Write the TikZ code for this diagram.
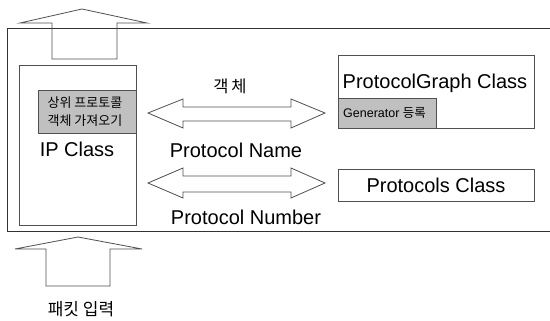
\documentclass[tikz,border=0pt]{standalone}
\usepackage{fontspec}
\setmainfont{Liberation Sans}
\newfontfamily\kr{Noto Sans CJK KR}
\definecolor{ln}{HTML}{505050}
\definecolor{grayfill}{HTML}{C0C0C0}
\begin{document}
\begin{tikzpicture}[x=1pt,y=-1pt,
  box/.style={draw=ln,line width=0.8pt,fill=white,inner sep=0pt},
  gbox/.style={draw=ln,line width=0.8pt,fill=grayfill,inner sep=0pt},
  blockarrow/.style={draw=ln,line width=0.8pt,line join=miter},
  big/.style={font=\fontsize{20}{22}\selectfont},
  lbl/.style={inner sep=0pt,anchor=center}]
\useasboundingbox (0,0) rectangle (550,321);
\fill[white] (0,0) rectangle (550,321);
% outer frame (open to the right)
\draw[draw=black!80,line width=0.8pt] (550,28) -- (7,28) -- (7,231) -- (550,231);
% output arrow (up)
\draw[blockarrow] (82,9) -- (147,23) -- (117,23) -- (117,59) -- (52,59) -- (52,23) -- (20,23) -- cycle;
% input arrow (up)
\draw[blockarrow] (78,237) -- (142,249) -- (110,249) -- (110,286) -- (46,286) -- (46,249) -- (15,249) -- cycle;
\node[lbl,font=\kr\fontsize{17}{19}\selectfont] (inp) at (81,309) {패킷 입력};
% IP class
\draw[box] (19,65) rectangle (136,225);
\draw[gbox] (38,90) rectangle (136,133);
\node[lbl,font=\kr\fontsize{13}{17}\selectfont,align=center] (fetch) at (85,112) {상위 프로토콜\\[1pt]객체 가져오기};
\node[lbl,big] (ip) at (77,149) {IP Class};
% ProtocolGraph class
\draw[box] (338,55) rectangle (534,128);
\node[lbl,big] (pg) at (435,83) {ProtocolGraph Class};
\draw[gbox] (338,98) rectangle (436,128);
\node[lbl,anchor=west,font=\fontsize{12.5}{14}\selectfont] (gen) at (343,113) {Generator {\kr 등록}};
% Protocols class
\draw[box] (338,169) rectangle (534,201);
\node[lbl,big] (pc) at (436,185) {Protocols Class};
% double arrow 1
\draw[blockarrow] (148,113) -- (183,99) -- (183,107) -- (291,107) -- (291,99) -- (325,113) -- (291,128) -- (291,121) -- (183,121) -- (183,128) -- cycle;
\node[lbl,font=\kr\fontsize{16.5}{18}\selectfont] (obj) at (230,86) {객\,체};
\node[lbl,big] (pname) at (236,150) {Protocol Name};
% double arrow 2
\draw[blockarrow] (148,183) -- (183,168) -- (183,176) -- (291,176) -- (291,168) -- (325,183) -- (291,198) -- (291,192) -- (183,192) -- (183,198) -- cycle;
\node[lbl,big] (pnum) at (246,217) {Protocol Number};
\end{tikzpicture}
\end{document}
